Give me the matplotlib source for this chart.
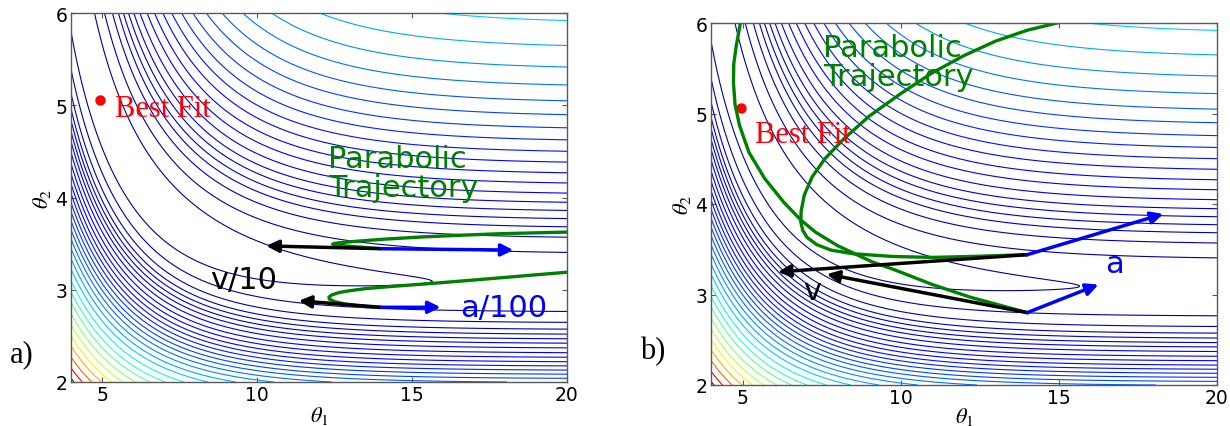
import numpy as np
import matplotlib
matplotlib.use("Agg")
import matplotlib.pyplot as plt

plt.rcParams["mathtext.fontset"] = "stix"

# two-exponential model y = exp(-th1 t) + exp(-th2 t), data at three times
t_obs = np.array([1 / 3, 1.0, 2.0])
y_obs = np.array([0.37464, 0.013147, 0.0000865])

# cost values of the drawn contour lines
cost_levels = [0.0012, 0.0031, 0.0050, 0.0066, 0.0080, 0.0095, 0.0111, 0.0130, 0.0152, 0.0175,
               0.0200, 0.0226, 0.0254, 0.0284, 0.0317, 0.0352, 0.0392, 0.0437, 0.049, 0.055,
               0.0625, 0.0705, 0.079, 0.089, 0.100, 0.112, 0.125, 0.140, 0.157, 0.175]

best_fit = (4.95, 5.06)

# panel a) : two steps, start point, v/10 tip, a/100 tip
a_start = [(14.0, 3.445), (14.0, 2.81)]
a_vtip = [(10.3, 3.475), (11.35, 2.88)]
a_atip = [(18.27, 3.43), (15.92, 2.81)]

# panel b) : same steps, v tip, a tip
b_start = [(14.0, 3.44), (14.0, 2.80)]
b_vtip = [(6.12, 3.25), (7.66, 3.225)]
b_atip = [(18.3, 3.89), (16.25, 3.11)]

# parabolic trajectories
a_traj1_x = [13.95, 13.2, 12.75, 12.5, 12.44, 12.55, 12.85, 13.3, 14.1, 15.3, 16.5, 17.8, 19.0, 20.0]
a_traj1_y = [3.447, 3.465, 3.478, 3.488, 3.495, 3.505, 3.515, 3.528, 3.548, 3.572, 3.59, 3.607, 3.617, 3.625]
a_traj2_x = [13.95, 13.3, 12.8, 12.5, 12.34, 12.32, 12.42, 12.65, 13.0, 13.5, 14.3, 15.5, 16.8, 18.4, 20.0]
a_traj2_y = [2.807, 2.825, 2.848, 2.872, 2.897, 2.92, 2.945, 2.97, 2.99, 3.012, 3.035, 3.065, 3.10, 3.145, 3.19]

b_traj1_x = [14.0, 12.2, 11.0, 9.75, 8.5, 7.8, 7.35, 7.04, 6.9, 6.84, 6.85, 6.95, 7.2, 7.6, 8.2, 9.0,
             10.0, 11.0, 12.0, 13.0, 14.0, 15.3]
b_traj1_y = [3.44, 3.42, 3.41, 3.42, 3.45, 3.49, 3.55, 3.63, 3.71, 3.80, 3.92, 4.10, 4.30, 4.50, 4.72, 4.97,
             5.22, 5.45, 5.64, 5.80, 5.92, 6.03]
b_traj2_x = [14.0, 12.2, 11.0, 9.75, 9.1, 8.0, 7.3, 6.85, 6.3, 5.7, 5.2, 4.9, 4.76, 4.71, 4.72, 4.8, 4.94]
b_traj2_y = [2.80, 2.97, 3.11, 3.28, 3.36, 3.54, 3.69, 3.82, 4.02, 4.28, 4.57, 4.87, 5.10, 5.34, 5.55, 5.75, 6.02]

# cost surface
th1 = np.linspace(4, 20, 500)
th2 = np.linspace(2, 6, 500)
T1, T2 = np.meshgrid(th1, th2)
model = np.exp(-T1[..., None] * t_obs) + np.exp(-T2[..., None] * t_obs)
cost = ((model - y_obs) ** 2).sum(axis=-1)

norm = plt.Normalize(-0.003, 0.175)

GREEN = (0, 0.5, 0)
SANS = "DejaVu Sans"
SERIF = "Liberation Serif"

fig = plt.figure(figsize=(12.3, 4.27), dpi=100)
ax1 = fig.add_axes([71 / 1230, 1 - 383 / 427, 496 / 1230, 369 / 427])
ax2 = fig.add_axes([711 / 1230, 1 - 386 / 427, 506 / 1230, 362 / 427])


def arrow(ax, start, tip, color):
    ax.annotate("", xy=tip, xytext=start,
                arrowprops=dict(arrowstyle="-|>", color=color, lw=2.5,
                                mutation_scale=18, shrinkA=0, shrinkB=0))


def base(ax, xpad):
    ax.contour(T1, T2, cost, levels=cost_levels, cmap="jet", norm=norm, linewidths=0.8)
    ax.plot(*best_fit, "o", color="r", ms=6.5)
    ax.set_xlim(4, 20)
    ax.set_ylim(2, 6)
    ax.set_xticks([5, 10, 15, 20])
    ax.set_yticks([2, 3, 4, 5, 6])
    ax.tick_params(direction="in", top=True, right=True, length=3.5, width=0.8,
                   color="0.35", labelsize=13.5, pad=2.5)
    for s in ax.spines.values():
        s.set_color("0.35")
        s.set_linewidth(1.0)
    ax.set_xlabel(r"$\theta_1$", fontsize=16, labelpad=xpad)
    ax.set_ylabel(r"$\theta_2$", fontsize=16, labelpad=2)


# panel a
base(ax1, 0)
ax1.plot(a_traj1_x, a_traj1_y, color=GREEN, lw=2.4)
ax1.plot(a_traj2_x, a_traj2_y, color=GREEN, lw=2.4)
for s, v, a in zip(a_start, a_vtip, a_atip):
    arrow(ax1, s, v, "k")
    arrow(ax1, s, a, "b")
ax1.text(5.42, 4.886, "Best Fit", color="r", family=SERIF, fontsize=22)
ax1.text(12.28, 4.58, "Parabolic\nTrajectory", color=GREEN, family=SANS, fontsize=22,
         va="top", linespacing=1.0)
ax1.text(8.49, 3.02, "v/10", color="k", family=SANS, fontsize=22)
ax1.text(16.54, 2.716, "a/100", color="b", family=SANS, fontsize=22)

# panel b
base(ax2, -2)
ax2.plot(b_traj1_x, b_traj1_y, color=GREEN, lw=2.4)
ax2.plot(b_traj2_x, b_traj2_y, color=GREEN, lw=2.4)
for s, v, a in zip(b_start, b_vtip, b_atip):
    arrow(ax2, s, v, "k")
    arrow(ax2, s, a, "b")
ax2.text(5.38, 4.69, "Best Fit", color="r", family=SERIF, fontsize=22)
ax2.text(7.53, 5.89, "Parabolic\nTrajectory", color=GREEN, family=SANS, fontsize=22,
         va="top", linespacing=1.0)
ax2.text(6.92, 2.95, "v", color="k", family=SANS, fontsize=22)
ax2.text(16.45, 3.25, "a", color="b", family=SANS, fontsize=22)

fig.text(10 / 1230, 1 - 355 / 427, "a)", family=SERIF, fontsize=22, va="center")
fig.text(640 / 1230, 1 - 352 / 427, "b)", family=SERIF, fontsize=22, va="center")

fig.savefig("out.png", dpi=100)
